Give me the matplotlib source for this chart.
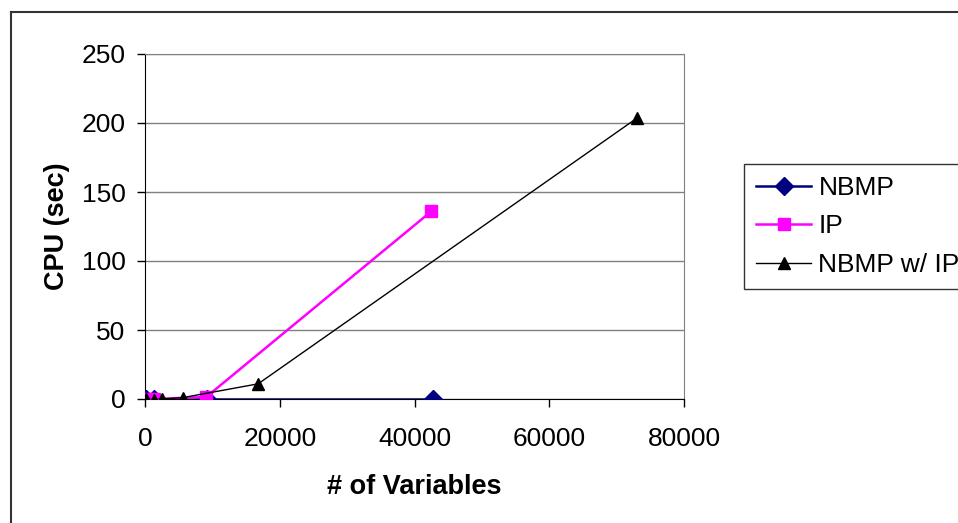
import matplotlib
matplotlib.use('Agg')
import matplotlib.pyplot as plt
from matplotlib.lines import Line2D

plt.rcParams['font.family'] = ['Liberation Sans', 'DejaVu Sans']

# ── DATA ─────────────────────────────────────
nbmp_x = [100, 1300, 9200, 42700]
nbmp_y = [0, 0, 0, 0]

ip_x = [100, 1300, 9100, 42500]
ip_y = [0, 0, 1.5, 136]

nbmp_ip_x = [100, 1300, 2500, 5600, 16800, 73000]
nbmp_ip_y = [0, -0.5, 0, 1, 11, 203.5]

x_ticks = [0, 20000, 40000, 60000, 80000]
y_ticks = [0, 50, 100, 150, 200, 250]

W, H = 958, 523
fig = plt.figure(figsize=(W / 100, H / 100), dpi=100)
fig.patch.set_facecolor('white')

ax = fig.add_axes([145 / W, 1 - 399 / H, (684 - 145) / W, (399 - 54) / H])

ax.plot(nbmp_x, nbmp_y, color='#000080', lw=1.8, marker='D', ms=9,
        label='NBMP', zorder=3)
ax.plot(ip_x, ip_y, color='#ff00ff', lw=1.8, marker='s', ms=9,
        label='IP', zorder=4)
ax.plot(nbmp_ip_x, nbmp_ip_y, color='black', lw=1, marker='^', ms=8,
        label='NBMP w/ IP', zorder=5)

ax.set_xlim(0, 80000)
ax.set_ylim(0, 250)
ax.set_xticks(x_ticks)
ax.set_yticks(y_ticks)
ax.tick_params(direction='out', length=6, width=1, labelsize=19, pad=8)
ax.tick_params(axis='x', pad=14)
ax.yaxis.grid(True, color='#808080', lw=1)
ax.set_axisbelow(True)

for side in ['top', 'right']:
    ax.spines[side].set_color('#808080')
for side in ['left', 'bottom']:
    ax.spines[side].set_color('black')

ax.set_xlabel('# of Variables', fontsize=19.5, fontweight='bold', labelpad=17)
ax.set_ylabel('CPU (sec)', fontsize=19.5, fontweight='bold', labelpad=8)

leg = fig.legend(loc='upper left', bbox_to_anchor=(744 / W, 1 - 164 / H),
                 fontsize=19, frameon=True, fancybox=False, edgecolor='black',
                 handlelength=2.1, labelspacing=0.55, borderpad=0.45,
                 handletextpad=0.27, borderaxespad=0)
leg.get_frame().set_linewidth(1)

# outer chart border (top and left edges visible)
fig.add_artist(Line2D([11 / W, 1], [1 - 12 / H, 1 - 12 / H],
                      transform=fig.transFigure, color='#333333', lw=1.5))
fig.add_artist(Line2D([11 / W, 11 / W], [0, 1 - 12 / H],
                      transform=fig.transFigure, color='#333333', lw=1.5))

fig.savefig('out.png', dpi=100, facecolor='white')
